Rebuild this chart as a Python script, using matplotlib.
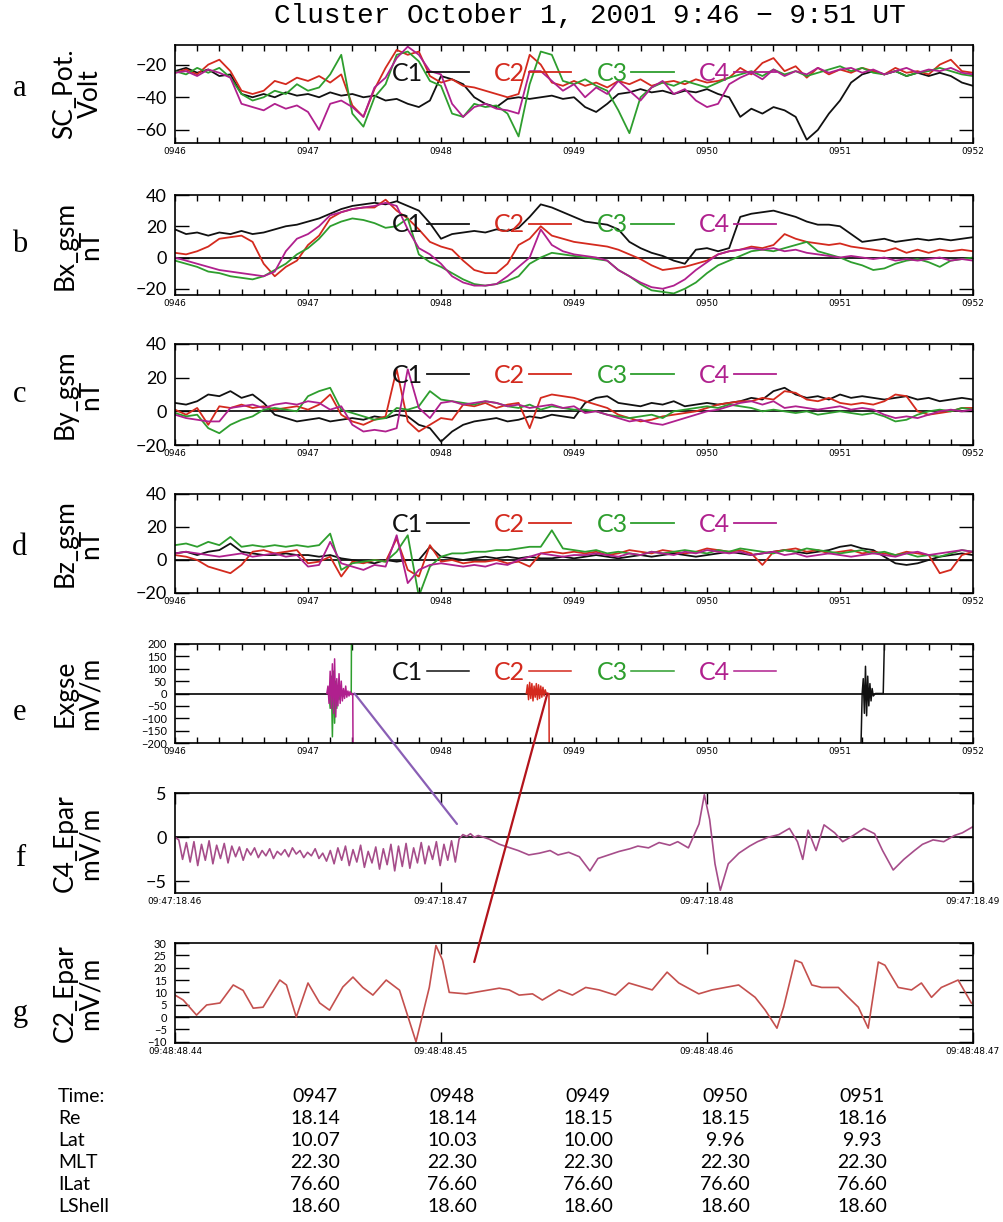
import numpy as np
import matplotlib
matplotlib.use('Agg')
import matplotlib.pyplot as plt
from matplotlib.patches import ConnectionPatch

W, H = 1004, 1222

# ---------------- data ----------------
# panels a-d: seconds after 09:46:00, one sample every 5 s
t5 = np.arange(0, 361, 5)
minute_labels = ['0946', '0947', '0948', '0949', '0950', '0951', '0952']
sc_names = ['C1', 'C2', 'C3', 'C4']
sc_colors = ['#111111', '#d42a1e', '#2e9e2e', '#b0208e']

pot_c1 = [-24, -22, -25, -23, -27, -26, -38, -40, -38, -40, -37, -39, -38, -40, -37, -39, -38, -40, -39, -42,
          -41, -44, -46, -42, -27, -29, -32, -40, -44, -46, -41, -40, -41, -40, -39, -41, -40, -46, -49, -44,
          -38, -37, -35, -37, -36, -38, -36, -37, -35, -38, -40, -52, -47, -50, -46, -48, -52, -66, -60, -50,
          -42, -31, -26, -24, -26, -24, -27, -25, -27, -25, -27, -31, -33]
pot_c2 = [-25, -23, -26, -20, -17, -24, -36, -38, -36, -30, -32, -28, -30, -27, -31, -26, -45, -52, -35, -22,
          -11, -14, -12, -27, -31, -29, -33, -34, -36, -38, -40, -38, -14, -20, -31, -33, -30, -33, -31, -34,
          -30, -32, -29, -33, -31, -30, -32, -29, -31, -30, -28, -22, -26, -19, -16, -24, -21, -28, -22, -26,
          -23, -25, -22, -24, -26, -22, -25, -24, -26, -20, -17, -24, -25]
pot_c3 = [-24, -26, -22, -25, -22, -28, -38, -42, -40, -36, -38, -32, -36, -34, -26, -14, -50, -58, -40, -32,
          -14, -12, -18, -30, -33, -50, -52, -44, -46, -45, -50, -64, -32, -12, -14, -30, -32, -29, -33, -36,
          -48, -62, -40, -34, -31, -33, -30, -32, -34, -31, -28, -26, -24, -27, -23, -26, -24, -27, -25, -23,
          -21, -24, -22, -25, -26, -24, -27, -25, -24, -22, -24, -26, -27]
pot_c4 = [-25, -24, -27, -23, -25, -28, -44, -46, -48, -44, -47, -45, -49, -60, -44, -42, -46, -52, -34, -28,
          -16, -9, -14, -24, -26, -44, -52, -46, -44, -47, -48, -50, -24, -24, -30, -36, -32, -40, -34, -38,
          -30, -36, -42, -34, -30, -38, -35, -42, -46, -44, -32, -28, -25, -29, -23, -27, -24, -26, -22, -25,
          -23, -22, -25, -23, -26, -24, -22, -25, -23, -24, -22, -25, -26]

bx_c1 = [18, 15, 16, 14, 16, 15, 17, 15, 16, 18, 20, 21, 23, 25, 28, 31, 33, 34, 35, 34,
         36, 33, 30, 22, 12, 15, 16, 17, 16, 18, 17, 19, 26, 34, 32, 29, 26, 23, 22, 21,
         18, 10, 6, 3, 1, -2, -4, 5, 6, 4, 6, 26, 28, 29, 30, 28, 26, 23, 21, 21,
         20, 15, 10, 11, 12, 10, 11, 12, 11, 12, 11, 12, 13]
bx_c2 = [3, 2, 4, 7, 12, 13, 14, 10, -4, -12, -6, -2, 8, 14, 25, 29, 31, 32, 32, 37,
         30, 25, 18, 10, 7, 5, -2, -8, -10, -10, -4, 8, 12, 20, 14, 12, 10, 9, 8, 7,
         5, 2, -1, -5, -8, -7, -6, -4, -2, 2, 4, 5, 7, 6, 8, 15, 12, 10, 9, 8,
         9, 7, 6, 5, 4, 6, 3, 5, 3, 5, 4, 5, 4]
bx_c3 = [-2, -4, -6, -9, -10, -12, -13, -14, -12, -8, -4, 2, 6, 12, 20, 23, 25, 24, 22, 19,
         20, 25, 2, -3, -6, -10, -14, -17, -18, -17, -15, -12, -4, 0, 3, 2, 1, 0, -1, -2,
         -8, -12, -17, -21, -22, -23, -20, -16, -10, -5, -2, 1, 4, 5, 4, 6, 8, 10, 4, 2,
         0, -3, -5, -8, -7, -4, -2, -1, -3, -6, -2, -1, 0]
bx_c4 = [0, -2, -4, -6, -8, -9, -10, -11, -12, -9, 4, 12, 15, 20, 27, 29, 31, 32, 33, 35,
         33, 18, 6, 2, -4, -12, -16, -18, -18, -17, -12, -6, 0, 18, 8, 4, 2, 1, 0, -2,
         -8, -12, -16, -19, -20, -18, -14, -8, -3, 2, 4, 5, 6, 5, 6, 4, 5, 3, 2, 1,
         0, 1, 0, -1, 0, -2, -1, -2, -1, 0, -2, -1, -2]

by_c1 = [5, 4, 6, 10, 9, 12, 8, 10, 5, -2, -4, -6, -5, -4, -6, -5, -4, -5, -3, -4,
         -2, -3, -8, -10, -18, -12, -8, -6, -5, -4, -6, -5, -3, -4, -2, -3, -4, 5, 8, 9,
         5, 4, 3, 5, 4, 6, 3, 4, 5, 4, 5, 6, 8, 7, 12, 14, 10, 8, 9, 7,
         10, 8, 9, 8, 7, 8, 9, 7, 8, 6, 7, 8, 7]
by_c2 = [1, -2, 2, -8, 3, 2, 4, 2, 3, 1, 2, 3, 1, 4, 10, -2, -6, -8, -5, -3,
         25, -6, -12, -8, -4, -5, 4, 3, 5, 2, 4, 5, -10, 8, 10, 9, 8, 6, 4, 2,
         -2, -4, -6, -5, -3, -2, -1, 0, 2, 4, 5, 6, 6, 8, 7, 12, 11, 7, 6, 8,
         5, 4, 5, 4, 6, 10, 9, 0, -2, -1, 0, 2, 2]
by_c3 = [-1, -3, -2, -10, -13, -8, -5, -3, 1, 2, 1, 0, 9, 12, 14, 1, -1, -3, -5, -4,
         2, 1, 3, 12, 7, 6, 5, 4, 6, 5, 3, 2, 4, 1, 3, 2, 1, 1, 0, -2,
         -3, -4, -3, -2, -4, 0, 1, 2, 3, 2, 4, 3, 2, 0, 1, 0, -1, 0, -2, -1,
         0, -1, -2, -1, -3, -6, -5, -2, 0, 1, 0, 2, 1]
by_c4 = [-2, -4, -5, -6, -6, 2, 3, 4, 2, 4, 5, 4, 6, 5, 1, 3, -8, -12, -11, -12,
         -10, 25, 2, -4, 5, 6, 4, 5, 6, 5, 3, 4, 2, 3, 4, 2, 3, -1, 0, -2,
         -4, -6, -5, -7, -8, -6, -4, -2, 0, 1, 3, 5, 6, 4, 6, 2, 3, 2, 1, 2,
         3, 1, 2, 1, -2, -4, -3, -4, -2, 0, 1, 0, 1]

bz_c1 = [4, 5, 3, 5, 6, 10, 5, 4, 3, 3, 4, 3, 3, 2, 3, 1, 0, -1, -2, 0,
         -1, 0, 0, 8, 2, 1, 0, 1, 2, 1, 2, 1, 2, 1, 1, 2, 1, 2, 3, 2,
         1, 2, 3, 2, 3, 4, 3, 2, 3, 4, 5, 4, 3, 4, 5, 6, 5, 4, 5, 6,
         8, 9, 7, 6, 2, -2, -3, -2, 0, 2, 3, 4, 3]
bz_c2 = [3, 2, 0, -4, -6, -8, -3, 5, 6, 4, 5, 6, -2, -1, 2, -10, -1, -2, 0, -1,
         13, -6, -10, 9, -1, 0, -2, -1, -1, 0, -2, -1, -4, 4, 5, 4, 5, 4, 5, 3,
         4, 6, 5, 4, 6, 5, 4, 5, 7, 6, 5, 6, 4, -3, 5, 6, 7, 5, 6, 4,
         5, 6, 4, 5, 4, 3, 5, 4, 3, -8, -6, 3, 5]
bz_c3 = [9, 10, 8, 11, 9, 14, 8, 9, 8, 9, 8, 9, 8, 9, 16, -6, -2, -1, 0, -1,
         5, 15, -22, -4, 2, 4, 4, 5, 5, 6, 6, 7, 8, 8, 18, 7, 6, 5, 6, 4,
         5, 4, 3, 5, 4, 5, 6, 5, 4, 6, 5, 7, 6, 5, 4, 6, 5, 7, 6, 5,
         4, 5, 6, 4, 5, 3, 4, 2, 3, 2, 4, 6, 5]
bz_c4 = [4, 5, 4, 3, 2, 3, 4, 2, 3, 4, 2, 3, -4, -3, 11, -2, -4, -6, -3, -4,
         15, -14, -6, -3, -2, -3, -4, -3, -4, -2, -3, 0, 2, 4, 3, 2, 3, 3, 4, 3,
         2, 4, 3, 5, 4, 3, 5, 4, 6, 5, 4, 5, 3, 4, 5, 3, 4, 2, 3, 4,
         3, 2, 3, 4, 3, 2, 4, 5, 3, 4, 5, 6, 5]

# panel e: short bursts only (seconds after 09:46:00)
ex_c1_t = [309.5, 310, 310.5, 311, 311.5, 312, 312.5, 313, 313.5, 314, 314.5, 315, 316, 319.5, 320]
ex_c1_v = [-200, 0, 60, -80, 110, -90, 70, -50, 40, -30, 20, -10, 0, 0, 200]
ex_c2_t = [158.5, 159, 159.5, 160, 160.5, 161, 161.5, 162, 162.5, 163, 163.5, 164, 164.5, 165, 165.5,
           166, 166.5, 167, 167.5, 168.7, 168.8]
ex_c2_v = [0, 35, -25, 45, -20, 40, -30, 30, -15, 40, -25, 35, -20, 30, -15, 25, -10, 15, 0, 0, -200]
ex_c3_t = [69.5, 70, 70.5, 71, 71.5, 72, 72.5, 73, 73.5, 74, 75, 76, 77, 78, 79.5, 79.6]
ex_c3_v = [0, -60, 70, -175, 90, -120, 50, -60, 30, -25, 15, -10, 8, 0, 0, 200]
ex_c4_t = [68.5, 69, 69.5, 70, 70.5, 71, 71.5, 72, 72.5, 73, 73.5, 74, 74.5, 75, 75.5, 76, 76.5, 77,
           77.5, 78, 78.5, 79, 79.5, 80, 80.2, 80.3]
ex_c4_v = [0, 30, -40, 90, -60, 120, -80, 140, -95, 60, -50, 80, -40, 50, -30, 20, -20, 30, -15, 10,
           -10, 8, -5, 0, 0, -200]

# panel f: ms after 09:47:18.46
f_labels = ['09:47:18.46', '09:47:18.47', '09:47:18.48', '09:47:18.49']
f_wave = [0, -0.3, -2.5, -0.6, -2.8, -0.5, -3.2, -0.8, -2.6, -0.4,
          -3.0, -0.9, -2.4, -0.7, -2.9, -1.0, -2.2, -1.1, -2.6, -1.3,
          -2.0, -1.2, -2.3, -1.5, -2.1, -1.3, -2.4, -1.6, -2.0, -1.4,
          -2.2, -1.2, -1.9, -1.5, -2.3, -1.7, -2.1, -1.3, -2.4, -1.8,
          -2.7, -1.5, -3.0, -1.2, -2.6, -1.0, -3.2, -1.4, -2.8, -0.9,
          -3.4, -1.6, -2.9, -1.1, -3.6, -1.3, -3.1, -0.8, -3.8, -1.0,
          -3.3, -0.7, -3.5, -1.2, -2.9, -0.6, -3.0, -1.0, -2.5, -0.5,
          -3.2, -0.8, -2.6, -0.4, -2.8, -0.2, 0.3, 0.1, 0.4, 0.0]
f_tail_ms = [11.4, 11.8, 12.2, 12.6, 12.9, 13.3, 13.7, 14.1, 14.4, 14.8, 15.2, 15.6, 15.9, 16.3, 16.7,
             17.1, 17.4, 17.8, 18.2, 18.6, 18.9, 19.3, 19.7, 19.9, 20.1, 20.3, 20.5, 20.8, 21.2, 21.6,
             21.9, 22.3, 22.7, 23.1, 23.4, 23.6, 23.8, 24.1, 24.4, 24.8, 25.1, 25.5, 25.9, 26.3, 26.6,
             27.0, 27.4, 27.8, 28.1, 28.5, 28.9, 29.3, 29.6, 30.0]
f_tail = [0.2, -0.2, -0.8, -1.2, -1.5, -2.0, -1.8, -1.5, -2.0, -1.7, -2.2, -3.8, -2.4, -2.0, -1.6,
          -1.3, -1.0, -1.2, -0.6, -0.9, -0.5, -1.2, 1.5, 4.8, 2.0, -3.0, -6.0, -3.0, -1.8, -1.0,
          -0.5, 0.0, 0.3, 1.0, -0.5, -2.5, 0.8, -1.5, 1.4, 0.5, -0.5, 0.2, 1.0, 0.4, -1.5,
          -3.7, -2.5, -1.5, -0.8, -0.3, -0.5, 0.2, 0.5, 1.2]

# panel g: ms after 09:48:48.44
g_labels = ['09:48:48.44', '09:48:48.45', '09:48:48.46', '09:48:48.47']
g_ms = [0, 0.31, 0.81, 1.19, 1.69, 2.19, 2.56, 2.94, 3.31, 3.94, 4.19, 4.56, 5.0, 5.44, 5.81,
        6.31, 6.69, 7.06, 7.44, 7.94, 8.44, 9.06, 9.56, 9.81, 10.06, 10.31, 10.94, 12.19, 12.56, 12.94,
        13.44, 13.81, 14.44, 14.94, 15.44, 15.94, 16.56, 17.06, 17.94, 18.5, 18.94, 19.69, 20.19, 21.19,
        21.81, 22.19, 22.63, 22.88, 23.31, 23.56, 23.94, 24.31, 24.94, 25.31, 25.69, 26.06, 26.44, 26.69,
        27.19, 27.69, 28.06, 28.44, 28.81, 29.44, 29.94]
g_val = [8.9, 6.9, 0.8, 4.9, 5.7, 13, 10.8, 3.6, 4.0, 15, 13, 0, 13.8, 5.7, 2.8,
         12.2, 16.2, 12, 8.9, 15, 10.9, -10, 12, 29, 23, 10, 9.4, 11.7, 11, 8.9,
         9.4, 6.9, 11, 8.9, 12, 11, 8.9, 13.8, 11, 18.2, 13.8, 9.4, 11, 13,
         8, 2.8, -4.5, 4, 23, 22, 13, 12, 12, 8, 4, -4.5, 22.3, 21, 12, 11,
         13.8, 8, 12, 15, 5.7]

# orbit table
tbl_rows = ['Time:', 'Re', 'Lat', 'MLT', 'ILat', 'LShell']
tbl_time = ['0947', '0948', '0949', '0950', '0951']
tbl_re = [18.14, 18.14, 18.15, 18.15, 18.16]
tbl_lat = [10.07, 10.03, 10.00, 9.96, 9.93]
tbl_mlt = [22.30, 22.30, 22.30, 22.30, 22.30]
tbl_ilat = [76.60, 76.60, 76.60, 76.60, 76.60]
tbl_lshell = [18.60, 18.60, 18.60, 18.60, 18.60]

# ---------------- figure ----------------
plt.rcParams['font.family'] = ['Lato', 'DejaVu Sans']
plt.rcParams['axes.linewidth'] = 1.2

fig = plt.figure(figsize=(W / 100, H / 100), dpi=100)


def add_panel(top, bottom):
    return fig.add_axes([175 / W, 1 - bottom / H, 798 / W, (bottom - top) / H])


def style_common(ax, yticks, ylim, ylabel, ysize=13):
    ax.set_ylim(*ylim)
    ax.set_yticks(yticks)
    ax.tick_params(axis='y', direction='in', left=True, right=True, length=10, width=1,
                   labelsize=ysize, pad=6)
    ax.set_ylabel(ylabel, fontsize=19, va='center', linespacing=1.0)
    ax.yaxis.set_label_coords(-0.122, 0.5)


def style_minutes(ax):
    ax.set_xlim(0, 360)
    ax.set_xticks(np.arange(0, 361, 60))
    ax.set_xticklabels(minute_labels, family='DejaVu Sans', fontsize=6.5)
    ax.set_xticks(np.arange(0, 361, 10), minor=True)
    ax.tick_params(axis='x', which='both', direction='in', top=True, bottom=True,
                   length=4, width=1, pad=3)


def add_legend(ax, y):
    ax.legend(ncol=4, loc='center', bbox_to_anchor=(0.5125, y), frameon=False,
              markerfirst=False, handlelength=1.7, handletextpad=0.15, columnspacing=1.0,
              labelcolor='linecolor', fontsize=18, borderpad=0, borderaxespad=0)


panels = [
    ('SC_Pot.\nVolt', [pot_c1, pot_c2, pot_c3, pot_c4], (-68, -8), [-60, -40, -20], 45, 143, False, 0.714),
    ('Bx_gsm\nnT', [bx_c1, bx_c2, bx_c3, bx_c4], (-24, 40), [-20, 0, 20, 40], 195, 295, True, 0.70),
    ('By_gsm\nnT', [by_c1, by_c2, by_c3, by_c4], (-20, 40), [-20, 0, 20, 40], 344, 445, True, 0.69),
    ('Bz_gsm\nnT', [bz_c1, bz_c2, bz_c3, bz_c4], (-20, 40), [-20, 0, 20, 40], 494, 593, True, 0.69),
]

for ylabel, series, ylim, yticks, top, bottom, zero, legy in panels:
    ax = add_panel(top, bottom)
    if zero:
        ax.axhline(0, color='k', lw=1.2)
    for name, col, vals in zip(sc_names, sc_colors, series):
        ax.plot(t5, vals, color=col, lw=1.3, label=name)
    style_common(ax, yticks, ylim, ylabel)
    style_minutes(ax)
    add_legend(ax, legy)

# panel e
ax_e = add_panel(644, 743)
ax_e.axhline(0, color='k', lw=1.2)
for name, col, tt, vv in zip(sc_names, sc_colors,
                             [ex_c1_t, ex_c2_t, ex_c3_t, ex_c4_t],
                             [ex_c1_v, ex_c2_v, ex_c3_v, ex_c4_v]):
    ax_e.plot(tt, vv, color=col, lw=1.1, label=name)
style_common(ax_e, np.arange(-200, 201, 50), (-200, 200), 'Exgse\nmV/m', ysize=8)
style_minutes(ax_e)
add_legend(ax_e, 0.71)

# panel f
ax_f = add_panel(793, 893)
ax_f.axhline(0, color='k', lw=1.2)
f_ms = np.concatenate([np.linspace(0, 11.25, len(f_wave)), f_tail_ms])
ax_f.plot(f_ms, f_wave + f_tail, color='#a64d8a', lw=1.2)
style_common(ax_f, [-5, 0, 5], (-6.3, 5), 'C4_Epar\nmV/m')
ax_f.set_xlim(0, 30)
ax_f.set_xticks([0, 10, 20, 30])
ax_f.set_xticklabels(f_labels, family='DejaVu Sans', fontsize=6.5)
ax_f.tick_params(axis='x', direction='in', top=True, bottom=True, length=8, width=1, pad=3)

# panel g
ax_g = add_panel(943, 1043)
ax_g.axhline(0, color='k', lw=1.2)
ax_g.plot(g_ms, g_val, color='#c4504e', lw=1.2)
style_common(ax_g, np.arange(-10, 31, 5), (-10.5, 30), 'C2_Epar\nmV/m', ysize=8)
ax_g.set_xlim(0, 30)
ax_g.set_xticks([0, 10, 20, 30])
ax_g.set_xticklabels(g_labels, family='DejaVu Sans', fontsize=6.5)
ax_g.tick_params(axis='x', direction='in', top=True, bottom=True, length=8, width=1, pad=3)

# zoom-link lines from the bursts in e to the detail panels
con_f = ConnectionPatch(xyA=(81, 0), coordsA=ax_e.transData, xyB=(10.6, 1.5), coordsB=ax_f.transData,
                        color='#8a5fb5', lw=1.6)
con_g = ConnectionPatch(xyA=(168, 0), coordsA=ax_e.transData, xyB=(11.25, 22.3), coordsB=ax_g.transData,
                        color='#b3141c', lw=1.6)
fig.add_artist(con_f)
fig.add_artist(con_g)

# panel letters and title
for letter, ypix in zip('abcdefg', [88, 245, 395, 548, 712, 858, 1013]):
    fig.text(20 / W, 1 - ypix / H, letter, family='Liberation Serif', fontsize=22,
             ha='center', va='center')
fig.text(590 / W, 1 - 16 / H, 'Cluster October 1, 2001 9:46 \u2212 9:51 UT',
         family=['Liberation Mono', 'DejaVu Sans Mono'], fontsize=20,
         ha='center', va='center')

# orbit table
col_x = [315, 452, 588, 725, 862]
row_y = [1096, 1118, 1141, 1163, 1185, 1207]
tbl_vals = [tbl_time,
            ['%.2f' % v for v in tbl_re],
            ['%.2f' % v for v in tbl_lat],
            ['%.2f' % v for v in tbl_mlt],
            ['%.2f' % v for v in tbl_ilat],
            ['%.2f' % v for v in tbl_lshell]]
for name, vals, yy in zip(tbl_rows, tbl_vals, row_y):
    fig.text(58 / W, 1 - yy / H, name, fontsize=14, ha='left', va='center')
    for xx, s in zip(col_x, vals):
        fig.text(xx / W, 1 - yy / H, s, fontsize=14, ha='center', va='center')

fig.savefig('out.png', dpi=100)
